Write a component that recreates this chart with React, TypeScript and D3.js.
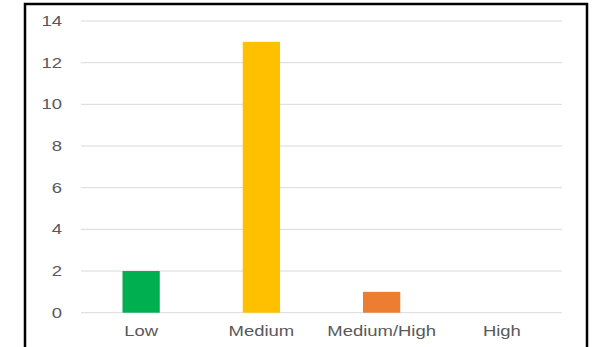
import React, { useEffect, useRef } from "react";
import * as d3 from "d3";

const categories = ["Low", "Medium", "Medium/High", "High"];
const counts = [2, 13, 1, 0];
const barColors = ["#00B050", "#FFC000", "#ED7D31", "#5B9BD5"];
const yTicks = [0, 2, 4, 6, 8, 10, 12, 14];

const W = 600;
const H = 347;
const stretch = 1.32;

const App = () => {
  const svgRef = useRef<SVGSVGElement>(null);

  useEffect(() => {
    const svg = d3.select(svgRef.current);
    svg.selectAll("*").remove();

    const x = d3.scaleBand<string>().domain(categories).range([81, 562]);
    const y = d3.scaleLinear().domain([0, 14]).range([312.7, 21]);
    const barW = x.bandwidth() * 0.31;

    svg.append("rect").attr("width", W).attr("height", H).attr("fill", "#fff");

    // gridlines
    svg.append("g")
      .selectAll("line")
      .data(yTicks)
      .join("line")
      .attr("x1", 81)
      .attr("x2", 562)
      .attr("y1", (d) => y(d))
      .attr("y2", (d) => y(d))
      .attr("stroke", "#D9D9D9")
      .attr("stroke-width", 1);

    // y labels
    svg.append("g")
      .selectAll("text")
      .data(yTicks)
      .join("text")
      .attr("transform", (d) => `translate(62,${y(d)}) scale(${stretch},1)`)
      .attr("text-anchor", "end")
      .attr("dy", "0.35em")
      .attr("font-family", "Liberation Sans, Arial, sans-serif")
      .attr("font-size", 14)
      .attr("fill", "#595959")
      .text((d) => d);

    // bars
    svg.append("g")
      .selectAll("rect")
      .data(counts)
      .join("rect")
      .attr("x", (d, i) => x(categories[i])! + x.bandwidth() / 2 - barW / 2)
      .attr("y", (d) => y(d))
      .attr("width", barW)
      .attr("height", (d) => y(0) - y(d))
      .attr("fill", (d, i) => barColors[i]);

    // x labels
    svg.append("g")
      .selectAll("text")
      .data(categories)
      .join("text")
      .attr("transform", (d) => `translate(${x(d)! + x.bandwidth() / 2},336) scale(${stretch},1)`)
      .attr("text-anchor", "middle")
      .attr("font-family", "Liberation Sans, Arial, sans-serif")
      .attr("font-size", 14)
      .attr("fill", "#595959")
      .text((d) => d);

    // frame
    svg.append("rect")
      .attr("x", 25)
      .attr("y", 4)
      .attr("width", 562)
      .attr("height", 400)
      .attr("fill", "none")
      .attr("stroke", "#000")
      .attr("stroke-width", 2.5);
  }, []);

  return (
    <svg
      ref={svgRef}
      width={W}
      height={H}
      style={{ position: "absolute", left: 0, top: 0, display: "block" }}
    ></svg>
  );
};

export default App;
